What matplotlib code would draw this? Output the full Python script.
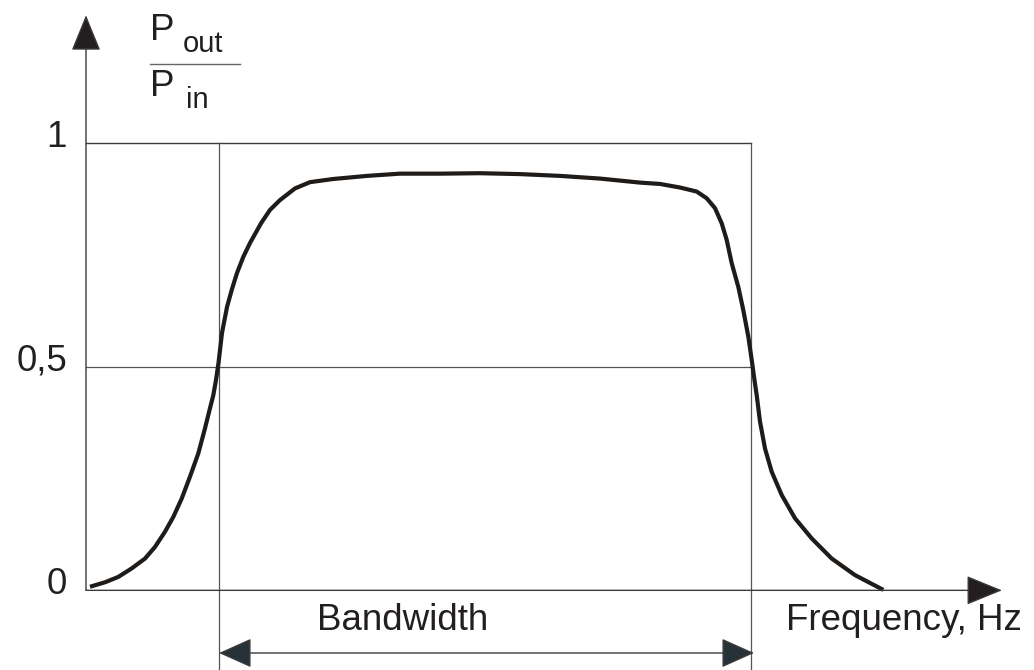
import matplotlib.pyplot as plt

plt.rcParams['font.family'] = ['Liberation Sans', 'DejaVu Sans']

# frequency response of the filter (arbitrary frequency units)
freq = [0.040, 0.190, 0.323, 0.457, 0.590, 0.690, 0.790, 0.873, 0.957, 1.040,
        1.123, 1.190, 1.240, 1.273, 1.300, 1.325, 1.360, 1.410, 1.457, 1.510,
        1.573, 1.640, 1.750, 1.840, 1.940, 2.090, 2.240, 2.470, 2.810, 3.140,
        3.540, 3.940, 4.340, 4.740, 5.140, 5.540, 5.740, 5.940, 6.107, 6.207,
        6.290, 6.357, 6.407, 6.457, 6.523, 6.573, 6.623, 6.657, 6.680, 6.707,
        6.740, 6.790, 6.857, 6.957, 7.090, 7.257, 7.457, 7.690, 7.973]
ratio = [0.008, 0.018, 0.030, 0.049, 0.071, 0.097, 0.131, 0.164, 0.205, 0.254,
         0.306, 0.362, 0.407, 0.436, 0.470, 0.508, 0.575, 0.633, 0.671, 0.709,
         0.745, 0.776, 0.820, 0.850, 0.872, 0.898, 0.912, 0.919, 0.926, 0.931,
         0.931, 0.932, 0.930, 0.926, 0.920, 0.911, 0.908, 0.900, 0.891, 0.876,
         0.854, 0.820, 0.783, 0.731, 0.678, 0.626, 0.567, 0.515, 0.477, 0.436,
         0.377, 0.317, 0.265, 0.213, 0.161, 0.116, 0.071, 0.034, 0.001]

f_low, f_high = 1.33, 6.65      # half power points
levels = [0, 0.5, 1]
level_labels = ['0', '0,5', '1']

txt_col = '#231f20'
line_col = '#555555'

fig = plt.figure(figsize=(10.34, 6.70), dpi=100)
ax = fig.add_axes([0, 0, 1, 1])
ax.set_xlim(-0.86, 9.48)
ax.set_ylim(-0.178, 1.319)
ax.axis('off')

# reference lines at 0.5 and 1 and the band edges
ax.plot([0, f_high], [1, 1], color='#3a3a3a', lw=1.0)
ax.plot([0, f_high], [0.5, 0.5], color=line_col, lw=0.9)
for f in (f_low, f_high):
    ax.plot([f, f], [1, -0.178], color=line_col, lw=0.9)

# axes with arrow heads
ax.annotate('', xy=(9.16, 0), xytext=(0, 0),
            arrowprops=dict(arrowstyle='-|>,head_length=23,head_width=9.4',
                            mutation_scale=1, lw=1.0, color='#3a3a3a',
                            fc='#231f20', shrinkA=0, shrinkB=0))
ax.annotate('', xy=(0, 1.285), xytext=(0, 0),
            arrowprops=dict(arrowstyle='-|>,head_length=23,head_width=9.4',
                            mutation_scale=1, lw=1.0, color='#3a3a3a',
                            fc='#231f20', shrinkA=0, shrinkB=0))

# bandwidth arrow
ax.annotate('', xy=(f_high + 0.03, -0.140), xytext=(f_low, -0.140),
            arrowprops=dict(arrowstyle='<|-|>,head_length=21,head_width=9.4',
                            mutation_scale=1, lw=1.0, color='#3a3a3a',
                            fc='#263238', shrinkA=0, shrinkB=0))

# response curve
ax.plot(freq, ratio, color='#1e1b18', lw=3.0, solid_capstyle='butt',
        solid_joinstyle='round')

# level labels
for v, s in zip(levels, level_labels):
    ax.text(-0.19, v + 0.012, s, ha='right', va='center', fontsize=26.5,
            color=txt_col)

# P_out / P_in label
ax.text(0.64, 1.230, 'P', ha='left', va='baseline', fontsize=26.5, color=txt_col)
ax.text(0.97, 1.203, 'out', ha='left', va='baseline', fontsize=21, color=txt_col)
ax.plot([0.64, 1.54], [1.176, 1.176], color='#666666', lw=1.0)
ax.text(0.64, 1.104, 'P', ha='left', va='baseline', fontsize=26.5, color=txt_col)
ax.text(1.00, 1.078, 'in', ha='left', va='baseline', fontsize=21, color=txt_col)

ax.text(2.31, -0.089, 'Bandwidth', ha='left', va='baseline', fontsize=26.5,
        color=txt_col)
ax.text(7.00, -0.089, 'Frequency, Hz', ha='left', va='baseline', fontsize=26.5,
        color=txt_col)

fig.savefig('out.png', dpi=100)
